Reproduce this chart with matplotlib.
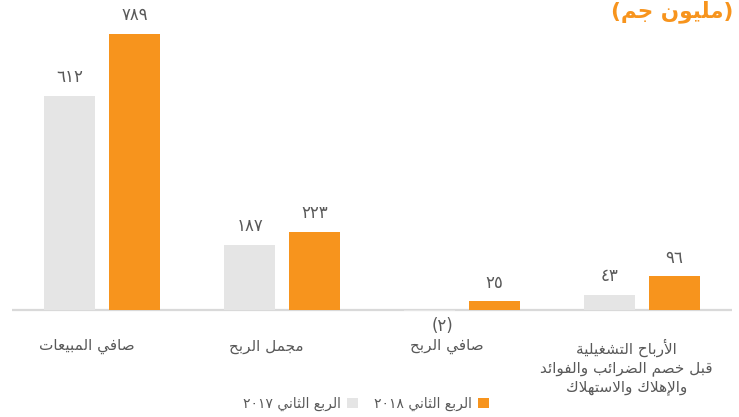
import re
import matplotlib
matplotlib.use("Agg")
import matplotlib.pyplot as plt

# ---------------- data ----------------
categories = ["صافي المبيعات", "مجمل الربح", "صافي الربح",
              "الأرباح التشغيلية\nقبل خصم الضرائب والفوائد\nوالإهلاك والاستهلاك"]
values_2017 = [612, 187, -2, 43]
values_2018 = [789, 223, 25, 96]
series_names = ["الربع الثاني ٢٠١٧", "الربع الثاني ٢٠١٨"]
unit_title = "(مليون جم)"

ORANGE = "#F7941D"
GRAY = "#E5E5E5"
TEXT = "#595959"

# ---------------- minimal Arabic shaping ----------------
_seq = [("\u0621", 1), ("\u0622", 2), ("\u0623", 2), ("\u0624", 2), ("\u0625", 2),
        ("\u0626", 4), ("\u0627", 2), ("\u0628", 4), ("\u0629", 2), ("\u062A", 4),
        ("\u062B", 4), ("\u062C", 4), ("\u062D", 4), ("\u062E", 4), ("\u062F", 2),
        ("\u0630", 2), ("\u0631", 2), ("\u0632", 2), ("\u0633", 4), ("\u0634", 4),
        ("\u0635", 4), ("\u0636", 4), ("\u0637", 4), ("\u0638", 4), ("\u0639", 4),
        ("\u063A", 4), ("\u0641", 4), ("\u0642", 4), ("\u0643", 4), ("\u0644", 4),
        ("\u0645", 4), ("\u0646", 4), ("\u0647", 4), ("\u0648", 2), ("\u0649", 2),
        ("\u064A", 4)]
FORMS = {}
_cp = 0xFE80
for _ch, _n in _seq:
    FORMS[_ch] = tuple(chr(_cp + k) for k in range(_n))
    _cp += _n
LAMALEF = {"\u0622": ("\uFEF5", "\uFEF6"), "\u0623": ("\uFEF7", "\uFEF8"),
           "\u0625": ("\uFEF9", "\uFEFA"), "\u0627": ("\uFEFB", "\uFEFC")}


def _shape(s):
    out = []
    i = 0
    prev_joins = False
    while i < len(s):
        ch = s[i]
        nxt = s[i + 1] if i + 1 < len(s) else ""
        if ch == "\u0644" and nxt in LAMALEF:
            out.append(LAMALEF[nxt][1 if prev_joins else 0])
            prev_joins = False
            i += 2
            continue
        if ch in FORMS:
            f = FORMS[ch]
            can_next = len(f) == 4 and nxt in FORMS
            if prev_joins and can_next:
                out.append(f[3])
            elif prev_joins:
                out.append(f[1] if len(f) > 1 else f[0])
            elif can_next:
                out.append(f[2])
            else:
                out.append(f[0])
            prev_joins = len(f) == 4
        else:
            out.append(ch)
            prev_joins = False
        i += 1
    return "".join(out)


_MIRROR = str.maketrans("()", ")(")


def ar(text):
    lines = []
    for line in text.split("\n"):
        shaped = _shape(line)
        runs = re.findall(r"[0-9\u0660-\u0669]+|[^0-9\u0660-\u0669]+", shaped)
        vis = []
        for r in reversed(runs):
            if r[0].isdigit():
                vis.append(r)
            else:
                vis.append(r[::-1].translate(_MIRROR))
        lines.append("".join(vis))
    return "\n".join(lines)


def ar_num(v):
    digits = str(abs(v)).translate(str.maketrans("0123456789", "٠١٢٣٤٥٦٧٨٩"))
    return "(" + digits + ")" if v < 0 else digits


# ---------------- figure ----------------
plt.rcParams["font.family"] = ["DejaVu Sans"]
fig = plt.figure(figsize=(7.39, 4.17), dpi=100)
W, H = 739, 417
ax = fig.add_axes([12 / W, (H - 330) / H, 720 / W, 320 / H])

px_per_unit = 0.35
ax.set_xlim(-0.5, len(categories) - 0.5)
ax.set_ylim(-20 / px_per_unit, 300 / px_per_unit)
ax.axis("off")

x = list(range(len(categories)))
bw = 0.283
off = 0.18
ax.axhline(0, color="#D9D9D9", lw=1.6, zorder=1)
b17 = ax.bar([xi - off for xi in x], values_2017, bw, color=GRAY, zorder=2,
             label=ar(series_names[0]))
b18 = ax.bar([xi + off for xi in x], values_2018, bw, color=ORANGE, zorder=2,
             label=ar(series_names[1]))

for bars, vals in ((b17, values_2017), (b18, values_2018)):
    for rect, v in zip(bars, vals):
        cx = rect.get_x() + rect.get_width() / 2
        if v >= 0:
            ax.annotate(ar_num(v), (cx, v), xytext=(0, 7), textcoords="offset points",
                        ha="center", va="bottom", fontsize=12, color=TEXT)
        else:
            ax.annotate(ar_num(v), (cx + 0.07, 0), xytext=(0, -5), textcoords="offset points",
                        ha="center", va="top", fontsize=12, color=TEXT)

for xi, cat in zip(x, categories):
    ax.annotate(ar(cat), (xi - 0.085, 0), xytext=(0, -21), textcoords="offset points",
                ha="center", va="top", fontsize=11, color=TEXT,
                multialignment="center", linespacing=1.25)

fig.text(733 / W, 1 - 12 / H, ar(unit_title), ha="right", va="center",
         fontsize=15.5, fontweight="bold", color=ORANGE)

leg = fig.legend(handles=[b17, b18], loc="center", bbox_to_anchor=(366 / W, 1 - 404 / H),
                 ncol=2, markerfirst=False, frameon=False, fontsize=10,
                 handlelength=0.8, handleheight=0.8, handletextpad=0.4,
                 columnspacing=1.2, labelcolor=TEXT)

fig.savefig("out.png", dpi=100, facecolor="white")
